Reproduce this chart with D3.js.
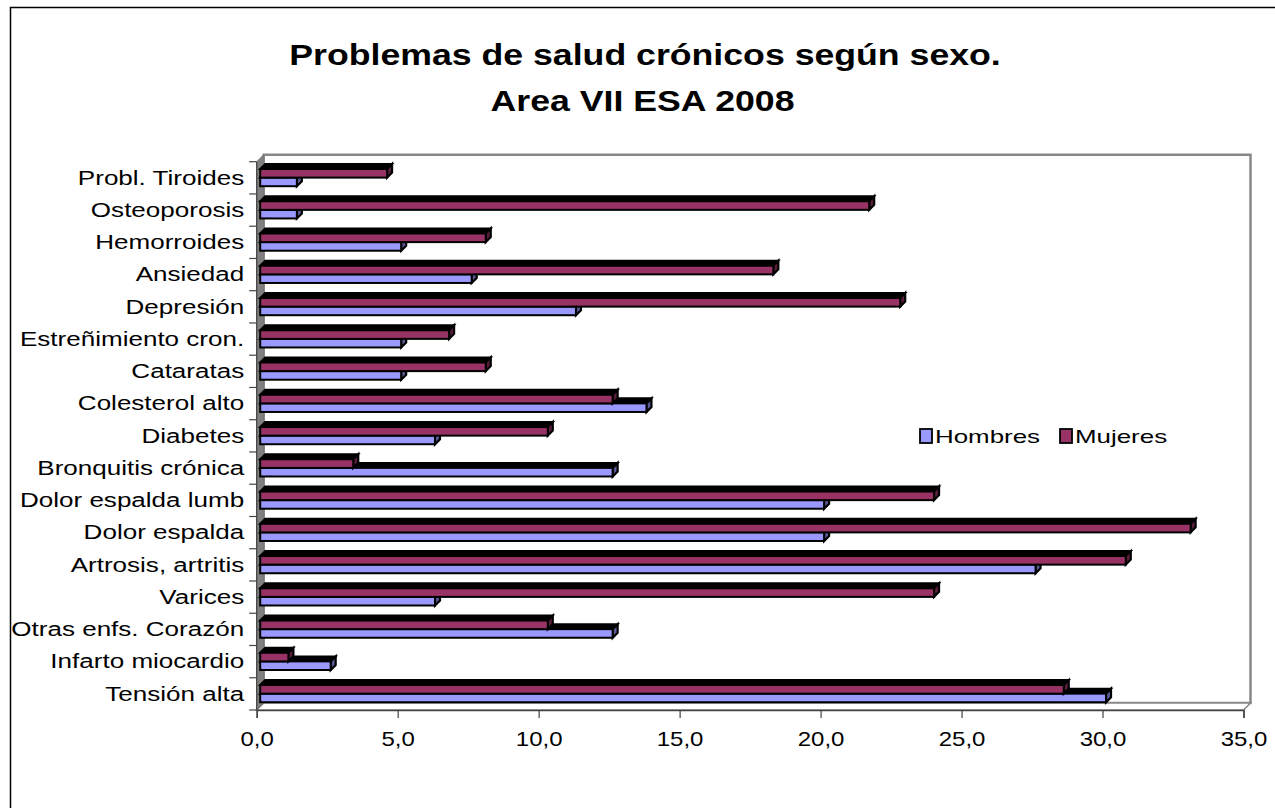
<!DOCTYPE html>
<html>
<head>
<meta charset="utf-8">
<script src="https://cdn.jsdelivr.net/npm/d3@7"></script>
<style>
  body { margin: 0; background: #fff; }
  text { font-family: Arial, "Liberation Sans", sans-serif; fill: #000; }
</style>
</head>
<body>
<script>
// data, bottom category first (as in the original sheet)
var categories = ["Tensión alta", "Infarto miocardio", "Otras enfs. Corazón", "Varices",
  "Artrosis, artritis", "Dolor espalda", "Dolor espalda lumb", "Bronquitis crónica",
  "Diabetes", "Colesterol alto", "Cataratas", "Estreñimiento cron.", "Depresión",
  "Ansiedad", "Hemorroides", "Osteoporosis", "Probl. Tiroides"];
var hombres = [30.0, 2.5, 12.5, 6.2, 27.5, 20.0, 20.0, 12.5, 6.2, 13.7, 5.0, 5.0, 11.2, 7.5, 5.0, 1.3, 1.3];
var mujeres = [28.5, 1.0, 10.2, 23.9, 30.7, 33.0, 23.9, 3.3, 10.2, 12.5, 8.0, 6.7, 22.7, 18.2, 8.0, 21.6, 4.5];
var seriesNames = ["Hombres", "Mujeres"];
var seriesColors = ["#9999FF", "#993366"];
var xTicks = [0, 5, 10, 15, 20, 25, 30, 35];

var svgWidth = 1275;
var svgHeight = 808;

// front plane of the 3D box
var plot = { left: 256.7, right: 1243.5, top: 161.7, bottom: 710 };
var depth = 7;      // wall depth
var barDepth = 5;   // bar depth
var barShift = 3.5; // bars sit a little behind the front plane

// the original picture was stretched sideways, so text is wider than normal
var stretch = { title: 1.23, cat: 1.24, tick: 1.2, legend: 1.4 };

var svg = d3.select("body")
  .append("svg")
  .attr("width", svgWidth)
  .attr("height", svgHeight);

// outer frame
svg.append("rect")
  .attr("x", 10.5).attr("y", 7.5)
  .attr("width", 1300).attr("height", 900)
  .attr("fill", "none").attr("stroke", "#000").attr("stroke-width", 1.5);

// title
var title = svg.append("g")
  .attr("transform", "translate(645,0) scale(" + stretch.title + ",1)")
  .append("text")
  .attr("text-anchor", "middle")
  .attr("font-weight", "bold")
  .attr("font-size", 29);
title.append("tspan").attr("x", 0).attr("y", 65).text("Problemas de salud crónicos según sexo.");
title.append("tspan").attr("x", -2).attr("y", 111).text("Area VII ESA 2008");

var x = d3.scaleLinear().domain([0, 35]).range([plot.left, plot.right]);

var rows = categories.map(function(c, i) {
  return { cat: c, values: [hombres[i], mujeres[i]] };
});

// top category is the last one
var y0 = d3.scaleBand()
  .domain(categories.slice().reverse())
  .range([plot.top, plot.bottom]);

// Mujeres drawn above Hombres inside each band
var y1 = d3.scaleBand()
  .domain(["Mujeres", "Hombres"])
  .range([7.3, 24.5]);

// back wall
svg.append("path")
  .attr("d", "M" + (plot.left + depth) + "," + (plot.top - depth) +
    "H" + (plot.right + depth) + "V" + (plot.bottom - depth) +
    "H" + (plot.left + depth) + "Z")
  .attr("fill", "#fff").attr("stroke", "#888").attr("stroke-width", 2.5);

// floor
svg.append("path")
  .attr("d", "M" + plot.left + "," + plot.bottom +
    "L" + (plot.left + depth) + "," + (plot.bottom - depth) +
    "H" + (plot.right + depth) +
    "L" + plot.right + "," + plot.bottom + "Z")
  .attr("fill", "#fff").attr("stroke", "#888").attr("stroke-width", 1.5);

// left wall
svg.append("path")
  .attr("d", "M" + plot.left + "," + plot.top +
    "L" + (plot.left + depth) + "," + (plot.top - depth) +
    "V" + (plot.bottom - depth) +
    "L" + plot.left + "," + plot.bottom + "Z")
  .attr("fill", "#808080").attr("stroke", "#777").attr("stroke-width", 1);

// bars
var barGroups = svg.append("g").selectAll("g")
  .data(rows)
  .enter().append("g")
  .attr("transform", function(d) { return "translate(0," + y0(d.cat) + ")"; });

var bars = barGroups.selectAll("g")
  .data(function(d) {
    return [
      { name: "Hombres", value: d.values[0], color: seriesColors[0] },
      { name: "Mujeres", value: d.values[1], color: seriesColors[1] }
    ];
  })
  .enter().append("g");

function x0b() { return x(0) + barShift; }
function x1b(d) { return x(d.value) + barShift; }

// top face
bars.append("path")
  .attr("d", function(d) {
    var t = y1(d.name);
    return "M" + x0b() + "," + t + "L" + (x0b() + barDepth) + "," + (t - barDepth) +
      "H" + (x1b(d) + barDepth) + "L" + x1b(d) + "," + t + "Z";
  })
  .attr("fill", "#000").attr("stroke", "#000").attr("stroke-width", 2);

// side face
bars.append("path")
  .attr("d", function(d) {
    var t = y1(d.name), b = t + y1.bandwidth();
    return "M" + x1b(d) + "," + t + "L" + (x1b(d) + barDepth) + "," + (t - barDepth) +
      "V" + (b - barDepth) + "L" + x1b(d) + "," + b + "Z";
  })
  .attr("fill", function(d) { return d3.color(d.color).darker(1.5); })
  .attr("stroke", "#000").attr("stroke-width", 2.2);

// front face
bars.append("rect")
  .attr("x", x0b())
  .attr("y", function(d) { return y1(d.name); })
  .attr("width", function(d) { return x1b(d) - x0b(); })
  .attr("height", y1.bandwidth())
  .attr("fill", function(d) { return d.color; })
  .attr("stroke", "#000").attr("stroke-width", 2);

// category axis
var leftAxis = d3.axisLeft(y0).tickSize(0).tickPadding(0);
var yAxis = svg.append("g")
  .attr("transform", "translate(" + plot.left + ",0)")
  .call(leftAxis);
yAxis.select(".domain").remove();
yAxis.selectAll("text")
  .attr("x", 0)
  .attr("transform", "translate(-12.5,0) scale(" + stretch.cat + ",1)")
  .attr("font-size", 21)
  .style("font-family", "Arial, 'Liberation Sans', sans-serif");

var bounds = y0.domain().map(function(c) { return y0(c); }).concat([plot.bottom]);
svg.append("g").selectAll("line")
  .data(bounds)
  .enter().append("line")
  .attr("x1", plot.left - 7.5).attr("x2", plot.left)
  .attr("y1", function(d) { return d; }).attr("y2", function(d) { return d; })
  .attr("stroke", "#444").attr("stroke-width", 1.2);

svg.append("line")
  .attr("x1", plot.left).attr("x2", plot.left)
  .attr("y1", plot.top).attr("y2", plot.bottom)
  .attr("stroke", "#444").attr("stroke-width", 1.2);

// value axis
var esFormat = d3.formatLocale({ decimal: ",", thousands: ".", grouping: [3], currency: ["", " €"] }).format(".1f");
var bottomAxis = d3.axisBottom(x).tickValues(xTicks).tickFormat(esFormat).tickSize(8).tickPadding(13.5);
var xAxis = svg.append("g")
  .attr("transform", "translate(0," + plot.bottom + ")")
  .call(bottomAxis);
xAxis.select(".domain").attr("stroke", "#444").attr("stroke-width", 1.5);
xAxis.selectAll(".tick line").attr("stroke", "#444").attr("stroke-width", 1.2);
xAxis.selectAll("text")
  .attr("font-size", 20)
  .attr("transform", "scale(" + stretch.tick + ",1)")
  .style("font-family", "Arial, 'Liberation Sans', sans-serif");

// legend
var legend = svg.append("g").attr("transform", "translate(920,429)");
var legendX = [0, 140];
seriesNames.forEach(function(name, i) {
  legend.append("rect")
    .attr("x", legendX[i]).attr("y", 0)
    .attr("width", 12).attr("height", 14)
    .attr("fill", seriesColors[i]).attr("stroke", "#000").attr("stroke-width", 1.8);
  legend.append("g")
    .attr("transform", "translate(" + (legendX[i] + 15) + ",14) scale(" + stretch.legend + ",1)")
    .append("text")
    .attr("x", 0).attr("y", 0)
    .attr("font-size", 18.5)
    .text(name);
});
</script>
</body>
</html>
